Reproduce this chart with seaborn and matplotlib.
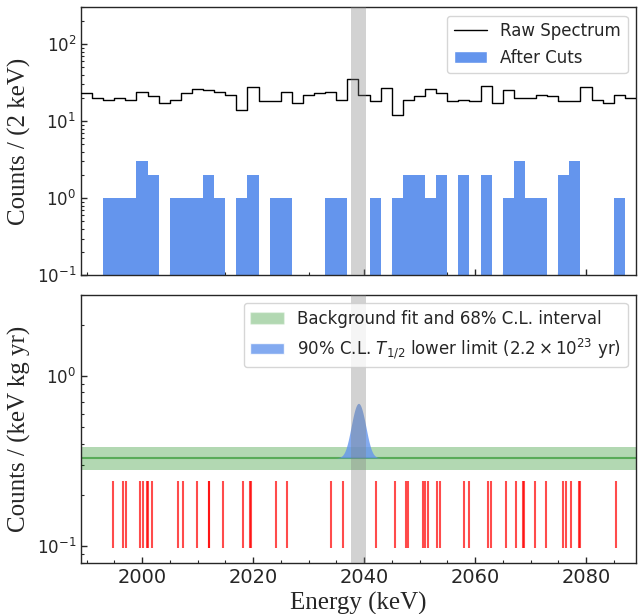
import numpy as np
import pandas as pd
import matplotlib
matplotlib.use("Agg")
import matplotlib.pyplot as plt
from matplotlib.lines import Line2D
from matplotlib.patches import Patch
from matplotlib.ticker import MultipleLocator, LogLocator, NullFormatter
import seaborn as sns

# ---------------- data ----------------
bin_lo, bin_hi, bin_w = 1989, 2089, 2
raw_counts = [23, 20, 19, 20, 19, 24, 21, 17, 19, 23,
              26, 25, 24, 22, 14, 28, 18, 18, 24, 17,
              22, 23, 24, 19, 35, 22, 18, 27, 12, 19,
              21, 26, 23, 18, 19, 18, 29, 17, 25, 20,
              20, 22, 21, 18, 18, 28, 19, 17, 22, 20]
events = [1994.8, 1996.6, 1997.2, 1999.7, 2000.1, 2000.9, 2001.1, 2001.8,
          2006.4, 2007.4, 2009.9, 2012.0, 2012.1, 2014.6, 2018.2, 2019.5,
          2019.7, 2024.1, 2026.1, 2034.1, 2036.2,
          2042.2, 2045.6, 2047.5, 2048.0, 2050.7, 2050.9, 2051.6, 2053.2,
          2053.7, 2058.1, 2058.9, 2062.4, 2062.9, 2065.6, 2067.4, 2068.7,
          2068.9, 2070.8, 2072.7, 2075.9, 2076.3, 2077.2, 2078.7, 2078.9,
          2085.4]
roi = (2037.7, 2040.4)
bkg_level = 0.33
bkg_band = (0.28, 0.38)
peak_center, peak_sigma, peak_amp = 2039.0, 1.1, 0.36
event_marks = (0.097, 0.24)

edges = np.arange(bin_lo, bin_hi + bin_w, bin_w)
centers = edges[:-1] + bin_w / 2
raw_df = pd.DataFrame({"energy": centers, "counts": raw_counts})
ev_df = pd.DataFrame({"energy": events})

# ---------------- style ----------------
sns.set_style("ticks")
plt.rcParams["font.family"] = ["DejaVu Sans"]
plt.rcParams["mathtext.fontset"] = "dejavusans"
serif = ["Liberation Serif", "DejaVu Serif"]

fig = plt.figure(figsize=(6.41, 6.14), dpi=100)
ax1 = fig.add_axes([0.1263, 0.5516, 0.8659, 0.4365])
ax2 = fig.add_axes([0.1263, 0.0836, 0.8659, 0.4365])

blue = "#6495ED"

# ---------------- top panel ----------------
sns.histplot(data=ev_df, x="energy", binwidth=bin_w, binrange=(bin_lo, bin_hi),
             element="bars", stat="count",
             color=blue, alpha=1.0, linewidth=0, ax=ax1, zorder=2)
sns.histplot(data=raw_df, x="energy", weights="counts", binwidth=bin_w,
             binrange=(bin_lo, bin_hi),
             element="step", fill=False, color="black", linewidth=1.0,
             ax=ax1, zorder=3)
ax1.axvspan(*roi, color="gray", alpha=0.35, lw=0, zorder=4)
ax1.set_yscale("log")
ax1.set_ylim(0.1, 300)
ax1.set_xlim(bin_lo, bin_hi)
ax1.set_xlabel("")
ax1.set_ylabel("Counts / (2 keV)", family=serif, fontsize=18)
ax1.tick_params(labelbottom=False)
h1 = [Line2D([], [], color="black", lw=1.0), Patch(facecolor=blue)]
ax1.legend(h1, ["Raw Spectrum", "After Cuts"], loc="upper right", fontsize=12,
           frameon=True)

# ---------------- bottom panel ----------------
xs = np.linspace(bin_lo, bin_hi, 2001)
sig = bkg_level + peak_amp * np.exp(-0.5 * ((xs - peak_center) / peak_sigma) ** 2)
ax2.axhspan(*bkg_band, color="green", alpha=0.3, lw=0, zorder=1)
sns.lineplot(x=[bin_lo, bin_hi], y=[bkg_level, bkg_level], color="green",
             alpha=0.5, lw=1.5, ax=ax2, zorder=2)
ax2.fill_between(xs, bkg_level, sig, where=sig > bkg_level + 1e-4,
                 color=blue, alpha=0.8, lw=0, zorder=3)
ax2.vlines(events, *event_marks, color="red", alpha=0.7, lw=1.5, zorder=3)
ax2.axvspan(*roi, color="gray", alpha=0.35, lw=0, zorder=4)
ax2.set_yscale("log")
ax2.set_ylim(0.08, 3)
ax2.set_xlim(bin_lo, bin_hi)
ax2.set_xlabel("Energy (keV)", family=serif, fontsize=18)
ax2.set_ylabel("Counts / (keV kg yr)", family=serif, fontsize=18)
h2 = [Patch(facecolor="green", alpha=0.3), Patch(facecolor=blue, alpha=0.8)]
ax2.legend(h2, ["Background fit and 68% C.L. interval",
                r"90% C.L. $T_{1/2}$ lower limit ($2.2\times10^{23}$ yr)"],
           loc="upper right", fontsize=12, frameon=True)

for ax in (ax1, ax2):
    ax.xaxis.set_major_locator(MultipleLocator(20))
    ax.xaxis.set_minor_locator(MultipleLocator(5))
    ax.yaxis.set_minor_locator(LogLocator(base=10, subs=np.arange(2, 10)))
    ax.yaxis.set_minor_formatter(NullFormatter())
    ax.tick_params(which="both", direction="in")
    ax.tick_params(axis="x", labelsize=14)
    ax.tick_params(axis="y", labelsize=12)
    ax.tick_params(which="major", length=4.5, width=1)
    ax.tick_params(which="minor", length=2.5, width=0.8)
    for s in ax.spines.values():
        s.set_visible(True)
        s.set_linewidth(1.0)

fig.savefig("out.png", dpi=100)
